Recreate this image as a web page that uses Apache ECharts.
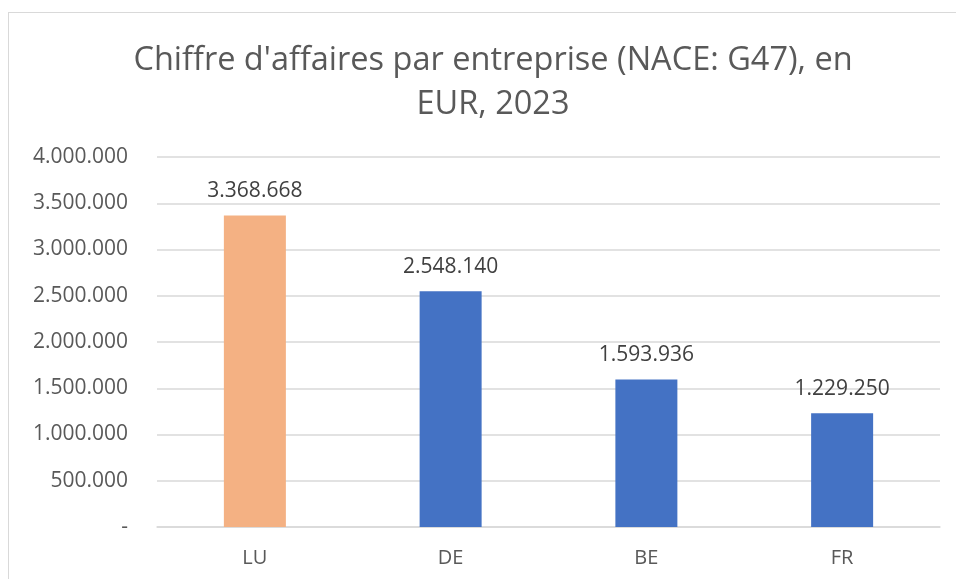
<!DOCTYPE html>
<html>
<head>
<meta charset="utf-8">
<script src="https://cdn.jsdelivr.net/npm/echarts@6/dist/echarts.min.js"></script>
<style>
  html, body { margin: 0; padding: 0; background: #fff; }
  #frame { position: absolute; left: 8px; top: 12px; width: 1000px; height: 600px; border: 1px solid #d9d9d9; box-sizing: border-box; }
  #main { position: absolute; left: 0; top: 0; width: 956px; height: 579px; }
</style>
</head>
<body>
<div id="frame"></div>
<div id="main"></div>
<script>
"use strict";
// chart data
var titleText = "Chiffre d'affaires par entreprise (NACE: G47), en\nEUR, 2023";
var countries = ['LU', 'DE', 'BE', 'FR'];
var turnover = [3368668, 2548140, 1593936, 1229250];
var barColors = ['#F4B183', '#4472C4', '#4472C4', '#4472C4'];

/**
 * format number with dot separators, zero as '-'
 */
function fmt(v) {
  if (v === 0) { return '-'; }
  return String(Math.round(v)).replace(/\B(?=(\d{3})+(?!\d))/g, '.');
}

var chart = echarts.init(document.getElementById('main'));
chart.setOption({
  animation: false,
  textStyle: { fontFamily: 'Open Sans' },
  title: {
    text: titleText,
    left: 488,
    textAlign: 'center',
    top: 34,
    textStyle: { fontSize: 32.5, fontWeight: 'normal', color: '#595959', lineHeight: 44, fontFamily: 'Open Sans' }
  },
  grid: { left: 157, right: 16, top: 157, bottom: 52 },
  xAxis: {
    type: 'category',
    data: countries,
    axisLine: { show: true, lineStyle: { color: '#d9d9d9', width: 1.5 } },
    axisTick: { show: false },
    axisLabel: { color: '#595959', fontSize: 20, margin: 21 }
  },
  yAxis: {
    type: 'value',
    min: 0,
    max: 4000000,
    interval: 500000,
    axisLine: { show: false },
    axisTick: { show: false },
    splitLine: { lineStyle: { color: '#d9d9d9', width: 1.5 } },
    axisLabel: { color: '#595959', fontSize: 21, margin: 29, formatter: fmt }
  },
  series: [{
    type: 'bar',
    barWidth: 62,
    data: turnover.map(function (v, i) {
      return { value: v, itemStyle: { color: barColors[i] } };
    }),
    label: {
      show: true,
      position: 'top',
      distance: 14,
      color: '#404040',
      fontSize: 21,
      formatter: function (p) { return fmt(p.value); }
    }
  }]
});
</script>
</body>
</html>
